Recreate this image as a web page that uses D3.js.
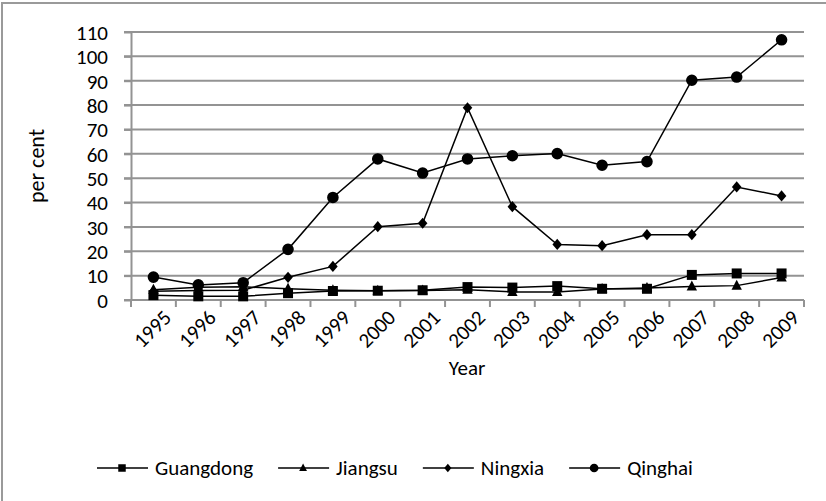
<!DOCTYPE html>
<html>
<head>
<meta charset="utf-8">
<script src="https://cdn.jsdelivr.net/npm/d3@7"></script>
<style>
  html, body { margin: 0; padding: 0; background: #fff; }
  svg { display: block; }
  text { font-family: Carlito, Calibri, Lato, "Open Sans", sans-serif; fill: #000; }
</style>
</head>
<body>
<svg id="chart" width="826" height="501"></svg>
<script>
// Years on the category axis
const years = ["1995","1996","1997","1998","1999","2000","2001","2002","2003","2004","2005","2006","2007","2008","2009"];

// Provincial series, per cent
const guangdong = [2.0, 1.5, 1.5, 2.8, 3.7, 3.8, 4.0, 5.3, 5.1, 5.7, 4.6, 4.6, 10.3, 10.9, 10.9];
const jiangsu   = [4.2, 5.2, 5.4, 4.6, 4.0, 3.8, 3.9, 4.2, 3.3, 3.3, 4.5, 4.9, 5.5, 5.9, 9.2];
const ningxia   = [3.6, 3.9, 4.0, 9.3, 13.8, 30.1, 31.5, 78.9, 38.3, 22.8, 22.3, 26.8, 26.8, 46.4, 42.7];
const qinghai   = [9.4, 6.2, 7.1, 20.8, 42.1, 57.9, 52.1, 57.9, 59.2, 60.1, 55.3, 56.8, 90.2, 91.5, 106.8];

const yTicks = [0, 10, 20, 30, 40, 50, 60, 70, 80, 90, 100, 110];

const seriesNames = ["Guangdong", "Jiangsu", "Ningxia", "Qinghai"];
const seriesValues = [guangdong, jiangsu, ningxia, qinghai];
const seriesShapes = ["square", "triangle", "diamond", "circle"];

const svg = d3.select("#chart");
const FONT = 21;
const GRID = "#939393";

// chart frame
svg.append("rect")
  .attr("x", 2).attr("y", 3).attr("width", 900).attr("height", 600)
  .attr("fill", "none").attr("stroke", "#9a9a9a").attr("stroke-width", 2);

const x = d3.scaleBand().domain(years).range([131, 804]);
const y = d3.scaleLinear().domain([0, 110]).range([300, 32]);

// horizontal gridlines with their tick stubs
svg.append("g").selectAll("line")
  .data(yTicks.filter(d => d > 0))
  .join("line")
  .attr("x1", 124).attr("x2", 804)
  .attr("y1", d => y(d)).attr("y2", d => y(d))
  .attr("stroke", GRID).attr("stroke-width", 2);

// y axis
const yAxis = svg.append("g").attr("transform", "translate(131,0)")
  .call(d3.axisLeft(y).tickValues(yTicks).tickSize(7).tickPadding(16).tickSizeOuter(0));
yAxis.select(".domain").attr("stroke", GRID).attr("stroke-width", 2);
yAxis.selectAll(".tick line").attr("stroke", GRID).attr("stroke-width", 2);
yAxis.selectAll(".tick text")
  .style("font-size", FONT + "px").attr("fill", "#000").attr("dy", "0.35em");

// x axis line and tick marks at category boundaries
const xAxisG = svg.append("g").attr("transform", "translate(0,300)");
xAxisG.append("line").attr("x1", 124).attr("x2", 804).attr("y1", 0).attr("y2", 0)
  .attr("stroke", GRID).attr("stroke-width", 2);
const edges = years.map(d => x(d)).concat([x(years[years.length - 1]) + x.bandwidth()]);
xAxisG.selectAll("line.edge").data(edges).join("line")
  .attr("class", "edge")
  .attr("x1", d => d).attr("x2", d => d).attr("y1", 0).attr("y2", 7)
  .attr("stroke", GRID).attr("stroke-width", 2);

// rotated year labels
xAxisG.selectAll("text.yr").data(years).join("text")
  .attr("class", "yr")
  .attr("text-anchor", "end")
  .style("font-size", FONT + "px")
  .attr("transform", d => `translate(${x(d) + x.bandwidth() / 2 + 19},${19}) rotate(-45)`)
  .text(d => d);

// axis titles
svg.append("text")
  .attr("text-anchor", "middle")
  .style("font-size", "22px")
  .attr("transform", "translate(44,166) rotate(-90)")
  .text("per cent");
svg.append("text")
  .attr("x", 467).attr("y", 375)
  .attr("text-anchor", "middle")
  .style("font-size", FONT + "px")
  .text("Year");

// marker symbols, drawn around the origin
function symbolFor(shape, big) {
  const s = big ? 1 : 0.75;
  if (shape === "square") {
    const h = 5 * s;
    return `M${-h},${-h}H${h}V${h}H${-h}Z`;
  }
  if (shape === "triangle") {
    const w = 5.2 * s, t = 6 * s, b = 4 * s;
    return `M0,${-t}L${w},${b}L${-w},${b}Z`;
  }
  if (shape === "diamond") {
    const w = 4.8 * s, h = 5.6 * s;
    return `M0,${-h}L${w},0L0,${h}L${-w},0Z`;
  }
  return d3.symbol().type(d3.symbolCircle).size(Math.PI * Math.pow(5.8 * s, 2))();
}

const cx = d => x(d) + x.bandwidth() / 2;
const line = d3.line().x(d => cx(d.year)).y(d => y(d.value));

seriesValues.forEach((vals, i) => {
  const pts = years.map((yr, j) => ({ year: yr, value: vals[j] }));
  const g = svg.append("g");
  g.append("path").datum(pts)
    .attr("d", line).attr("fill", "none")
    .attr("stroke", "#000").attr("stroke-width", 1.5);
  g.selectAll("path.mk").data(pts).join("path")
    .attr("class", "mk")
    .attr("transform", d => `translate(${cx(d.year)},${y(d.value)})`)
    .attr("d", symbolFor(seriesShapes[i], true))
    .attr("fill", "#000");
});

// legend
const legend = svg.append("g").attr("transform", "translate(0,468)");
let lx = 97;
seriesNames.forEach((name, i) => {
  const item = legend.append("g").attr("transform", `translate(${lx},0)`);
  item.append("line").attr("x1", 0).attr("x2", 51).attr("y1", 0).attr("y2", 0)
    .attr("stroke", "#000").attr("stroke-width", 1.5);
  item.append("path").attr("transform", "translate(25,0)")
    .attr("d", symbolFor(seriesShapes[i], false)).attr("fill", "#000");
  const t = item.append("text").attr("x", 58).attr("y", 0).attr("dy", "0.35em")
    .style("font-size", FONT + "px").text(name);
  lx += 58 + t.node().getComputedTextLength() + 25;
});
</script>
</body>
</html>
